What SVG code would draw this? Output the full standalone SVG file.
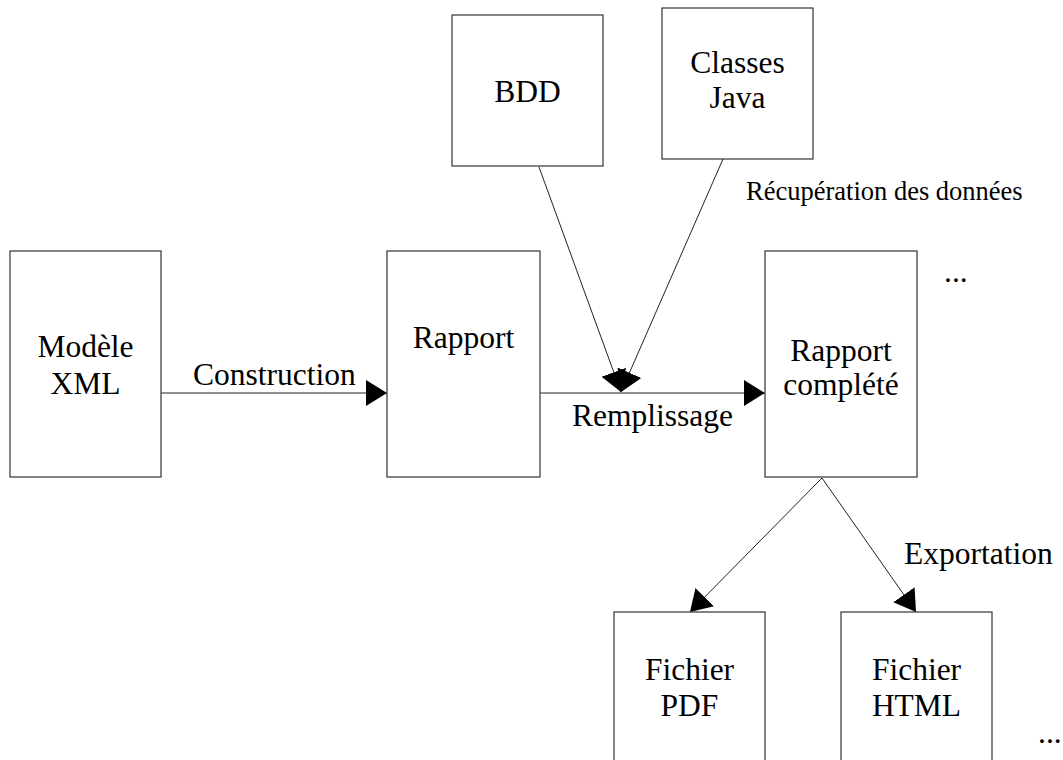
<svg xmlns="http://www.w3.org/2000/svg" width="1063" height="760" viewBox="0 0 1063 760">
  <style>
    .box { fill: #fff; stroke: #333; stroke-width: 1.2; }
    .lbl { font-family: "Liberation Serif", "Times New Roman", serif; font-size: 31.5px; fill: #000; }
    .mid { text-anchor: middle; }
    .small { font-size: 26.5px; }
    .edge { fill: none; stroke: #222; stroke-width: 1; }
  </style>
  <defs>
    <marker id="arrow" markerUnits="userSpaceOnUse" markerWidth="22" markerHeight="28" viewBox="0 -14 22 28" refX="21" refY="0" orient="auto">
      <path d="M0,-13 L21,0 L0,13 z" fill="#000"/>
    </marker>
  </defs>

  <rect width="1063" height="760" fill="#fff"/>

  <!-- connectors -->
  <g id="connectors">
    <line class="edge" x1="161" y1="393" x2="387" y2="393" marker-end="url(#arrow)"/>
    <line class="edge" x1="540" y1="393" x2="765" y2="393" marker-end="url(#arrow)"/>
    <line class="edge" x1="539" y1="167" x2="621" y2="392" marker-end="url(#arrow)"/>
    <line class="edge" x1="723" y1="159" x2="621" y2="392" marker-end="url(#arrow)"/>
    <line class="edge" x1="822" y1="478" x2="690" y2="612" marker-end="url(#arrow)"/>
    <line class="edge" x1="822" y1="478" x2="916" y2="612" marker-end="url(#arrow)"/>
    <text class="lbl" x="193" y="385">Construction</text>
    <text class="lbl" x="572" y="426">Remplissage</text>
    <text class="lbl small" x="746" y="200">Récupération des données</text>
    <text class="lbl" x="904" y="564">Exportation</text>
  </g>

  <!-- nodes -->
  <g id="modele">
    <rect class="box" x="10" y="251" width="151" height="226"/>
    <text class="lbl mid" x="85.5" y="357">Modèle</text>
    <text class="lbl mid" x="85.5" y="394">XML</text>
  </g>
  <g id="rapport">
    <rect class="box" x="387" y="251" width="153" height="226"/>
    <text class="lbl mid" x="463.5" y="348">Rapport</text>
  </g>
  <g id="rapport-complete">
    <rect class="box" x="765" y="251" width="152" height="226"/>
    <text class="lbl mid" x="841" y="361">Rapport</text>
    <text class="lbl mid" x="841" y="395">complété</text>
  </g>
  <g id="bdd">
    <rect class="box" x="452" y="15" width="151" height="151"/>
    <text class="lbl mid" x="527.5" y="102">BDD</text>
  </g>
  <g id="classes-java">
    <rect class="box" x="662" y="8" width="151" height="151"/>
    <text class="lbl mid" x="737.5" y="73">Classes</text>
    <text class="lbl mid" x="737.5" y="108">Java</text>
  </g>
  <g id="fichier-pdf">
    <rect class="box" x="614" y="612" width="151" height="226"/>
    <text class="lbl mid" x="689.5" y="680">Fichier</text>
    <text class="lbl mid" x="689.5" y="716">PDF</text>
  </g>
  <g id="fichier-html">
    <rect class="box" x="841" y="612" width="151" height="226"/>
    <text class="lbl mid" x="916.5" y="680">Fichier</text>
    <text class="lbl mid" x="916.5" y="716">HTML</text>
  </g>
  <g id="more-reports">
    <text class="lbl" x="944" y="282">...</text>
  </g>
  <g id="more-files">
    <text class="lbl" x="1038" y="743">...</text>
  </g>
</svg>
